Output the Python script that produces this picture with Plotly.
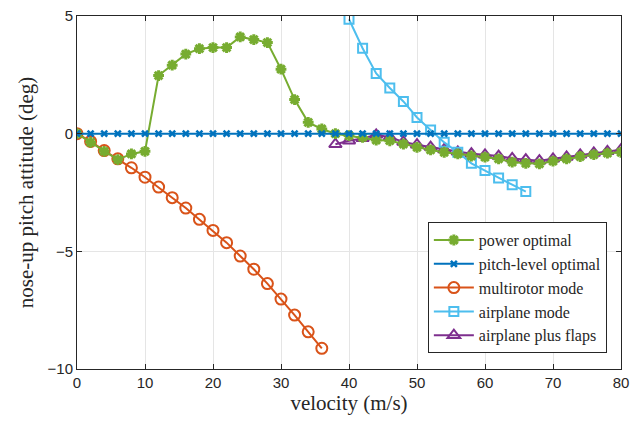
import plotly.graph_objects as go

v_power = [0, 2, 4, 6, 8, 10, 12, 14, 16, 18, 20, 22, 24, 26, 28, 30, 32, 34, 36, 38, 40,
           42, 44, 46, 48, 50, 52, 54, 56, 58, 60, 62, 64, 66, 68, 70, 72, 74, 76, 78, 80]
power_optimal = [0, -0.37, -0.75, -1.1, -0.86, -0.75, 2.47, 2.91, 3.38, 3.61, 3.66, 3.66, 4.11, 4.0,
                 3.87, 2.74, 1.45, 0.48, 0.2, 0.0, -0.08,
                 -0.16, -0.27, -0.3, -0.44, -0.58, -0.69, -0.79, -0.86, -0.95, -1.0, -1.07, -1.21,
                 -1.26, -1.28, -1.17, -1.07, -0.97, -0.89, -0.83, -0.79]

v_level = list(range(0, 81, 2))
pitch_level = [0.0] * len(v_level)

v_multi = list(range(0, 37, 2))
multirotor = [0, -0.33, -0.72, -1.07, -1.45, -1.85, -2.27, -2.72, -3.16, -3.64, -4.11, -4.63,
              -5.2, -5.76, -6.37, -7.03, -7.71, -8.42, -9.12]

v_air = list(range(40, 67, 2))
airplane = [4.86, 3.63, 2.56, 1.94, 1.37, 0.69, 0.16, -0.37, -0.79, -1.26, -1.57, -1.88, -2.17, -2.46]

v_flaps = list(range(38, 81, 2))
flaps = [-0.45, -0.3, -0.2, -0.05, -0.15, -0.35, -0.47, -0.57, -0.67, -0.77, -0.85, -0.9, -0.95,
         -1.05, -1.1, -1.15, -1.07, -0.99, -0.9, -0.82, -0.75, -0.68]

GREEN = "#77AC30"
BLUE = "#0072BD"
ORANGE = "#D95319"
LBLUE = "#4DBEEE"
PURPLE = "#7E2F8E"
SERIF = "Liberation Serif, DejaVu Serif, serif"
SANS = "Liberation Sans, Arial, sans-serif"

fig = go.Figure()
fig.add_trace(go.Scatter(x=v_multi, y=multirotor, mode="lines+markers", name="multirotor mode",
                         legendrank=3,
                         line=dict(color=ORANGE, width=2),
                         marker=dict(symbol="circle-open", size=11, color=ORANGE,
                                     line=dict(width=2, color=ORANGE))))
fig.add_trace(go.Scatter(x=v_flaps, y=flaps, mode="lines+markers", name="airplane plus flaps",
                         legendrank=5,
                         line=dict(color=PURPLE, width=2),
                         marker=dict(symbol="triangle-up-open", size=11, color=PURPLE,
                                     line=dict(width=2, color=PURPLE))))
fig.add_trace(go.Scatter(x=v_air, y=airplane, mode="lines+markers", name="airplane mode",
                         legendrank=4,
                         line=dict(color=LBLUE, width=2),
                         marker=dict(symbol="square-open", size=9, color=LBLUE,
                                     line=dict(width=2, color=LBLUE))))
fig.add_trace(go.Scatter(x=v_power, y=power_optimal, mode="lines+markers", name="power optimal",
                         legendrank=1,
                         line=dict(color=GREEN, width=2),
                         marker=dict(symbol="asterisk-open", size=9, color=GREEN,
                                     line=dict(width=3, color=GREEN))))
fig.add_trace(go.Scatter(x=v_level, y=pitch_level, mode="lines+markers", name="pitch-level optimal",
                         legendrank=2,
                         line=dict(color=BLUE, width=2),
                         marker=dict(symbol="x-thin-open", size=6, color=BLUE,
                                     line=dict(width=2.5, color=BLUE))))

axis_common = dict(showline=True, linecolor="#262626", linewidth=1, mirror="allticks",
                   ticks="inside", ticklen=5, tickcolor="#262626", automargin=False,
                   showgrid=True, gridcolor="#E5E5E5", gridwidth=1, zeroline=False,
                   tickfont=dict(family=SANS, size=15, color="#262626"))

fig.update_layout(
    width=632, height=421,
    margin=dict(l=77, r=11, t=16, b=52),
    paper_bgcolor="white", plot_bgcolor="white",
    xaxis=dict(range=[0, 80], tickvals=[0, 10, 20, 30, 40, 50, 60, 70, 80],
               title=dict(text="velocity (m/s)", standoff=2,
                          font=dict(family=SERIF, size=21, color="#262626")),
               **axis_common),
    yaxis=dict(range=[-10, 5], tickvals=[-10, -5, 0, 5],
               title=dict(text="nose-up pitch attitude (deg)", standoff=8,
                          font=dict(family=SERIF, size=21, color="#262626")),
               **axis_common),
    legend=dict(x=0.974, y=0.045, xanchor="right", yanchor="bottom",
                bgcolor="white", bordercolor="#262626", borderwidth=1,
                font=dict(family=SERIF, size=16, color="#262626"),
                tracegroupgap=0, itemwidth=40),
    showlegend=True,
)

fig.write_html("out.html", config={"displayModeBar": False},
               post_script="document.body.style.margin='0';")
